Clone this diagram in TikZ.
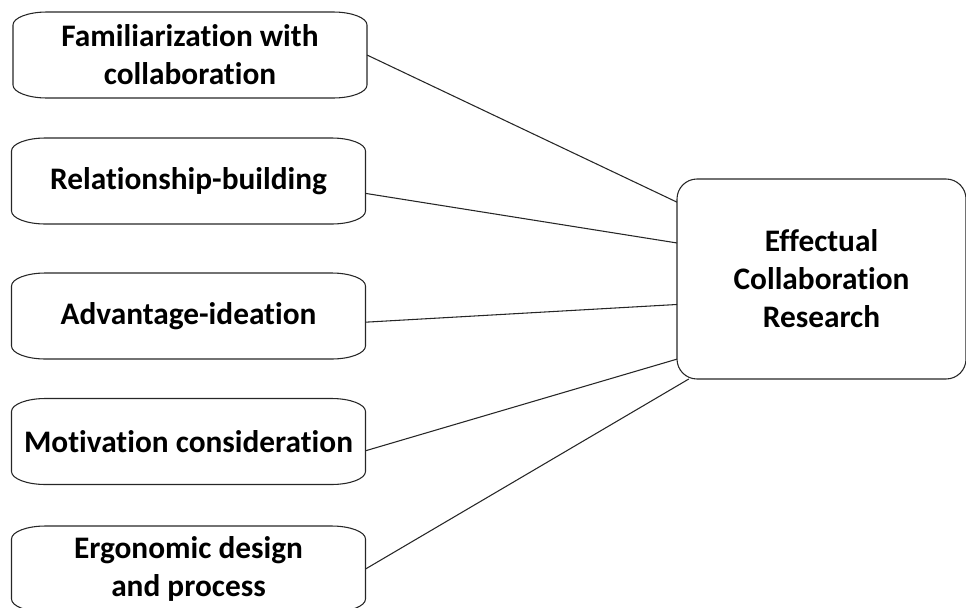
\documentclass[tikz,border=0pt]{standalone}
\usepackage{fontspec}
\setmainfont{Carlito}[Ligatures=NoCommon]
\usetikzlibrary{positioning}

\begin{document}
\begin{tikzpicture}[x=0.75pt, y=-0.75pt,
    font=\fontsize{23.5}{28.5}\selectfont\bfseries,
    factor/.style={minimum width=265.5pt, minimum height=64.5pt, inner sep=0pt, outer sep=0pt, align=center},
    outline/.style={draw=black!85, line width=0.8pt},
    target/.style={draw=black!85, line width=0.8pt, rounded corners=15pt, minimum width=216.75pt, minimum height=150pt, inner sep=0pt, outer sep=0pt, align=center},
    link/.style={draw=black!85, line width=0.8pt}]

    \useasboundingbox (0,0) rectangle (966,607);

    \node[factor] (fam) at (190,55) {Familiarization with\\collaboration};
    \node[factor] (rel) at (188.5,181) {Relationship-building};
    \node[factor] (adv) at (188.5,316) {Advantage-ideation};
    \node[factor] (mot) at (188.5,441.5) {Motivation consideration};
    \node[factor] (erg) at (188.5,569) {Ergonomic design\\and process};
    \node[target] (res) at (821.5,279) {Effectual\\Collaboration\\Research};

    % flat boxes with wide corners
    \foreach \n in {fam,rel,adv,mot,erg}
        \draw[outline] ([xshift=25.5pt]\n.north west) -- ([xshift=-25.5pt]\n.north east)
            arc[start angle=90, end angle=0, x radius=25.5pt, y radius=9.75pt]
            -- ([yshift=9.75pt]\n.south east)
            arc[start angle=0, end angle=-90, x radius=25.5pt, y radius=9.75pt]
            -- ([xshift=25.5pt]\n.south west)
            arc[start angle=270, end angle=180, x radius=25.5pt, y radius=9.75pt]
            -- ([yshift=-9.75pt]\n.north west)
            arc[start angle=180, end angle=90, x radius=25.5pt, y radius=9.75pt]
            -- cycle;

    \path[link]
        (fam.east) edge (res.152)
        (rel.-4) edge (res.166)
        (adv.-2) edge (res.190)
        (mot.-3) edge (res.209)
        (erg.east) edge (res.217);

\end{tikzpicture}
\end{document}
